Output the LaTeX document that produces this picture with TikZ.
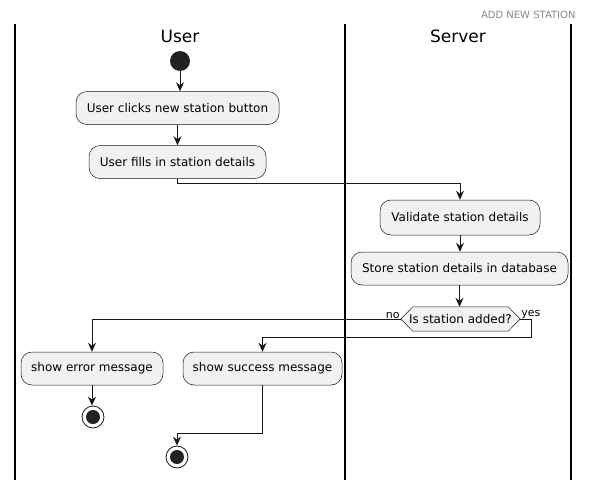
\documentclass[tikz,border=0pt]{standalone}
\usepackage{fontspec}
\setmainfont{DejaVu Sans}
\usetikzlibrary{arrows.meta,shapes.misc}
\definecolor{boxfill}{HTML}{F1F1F1}
\definecolor{boxline}{HTML}{181818}
\definecolor{dot}{HTML}{222222}
\definecolor{hdr}{HTML}{888888}
\tikzset{
  act/.style={draw=boxline, line width=0.5pt, fill=boxfill, rounded corners=11pt,
    minimum height=33pt, inner xsep=0pt, font=\fontsize{12}{14}\selectfont, anchor=center},
  arr/.style={draw=boxline, line width=1pt, -{Stealth[length=9pt,width=8pt,inset=3pt]}},
  lane/.style={line width=1.5pt, black},
  lanetitle/.style={font=\fontsize{17}{20}\selectfont},
}
\begin{document}
\begin{tikzpicture}[x=1pt,y=-1pt]
\useasboundingbox (0,0) rectangle (590,480);
\fill[white] (0,0) rectangle (590,480);
% header
\node[font=\fontsize{10}{12}\selectfont, text=hdr, anchor=east] (hdr) at (579,15) {ADD NEW STATION};
% lanes
\draw[lane] (15,24) -- (15,480);
\draw[lane] (345,24) -- (345,480);
\draw[lane] (571,24) -- (571,480);
\node[lanetitle] (tuser) at (180,36) {User};
\node[lanetitle] (tserver) at (458,36) {Server};
% start
\node[circle, fill=dot, minimum size=20pt, inner sep=0pt] (start) at (180,61) {};
\node[act, minimum width=203pt] (n1) at (177.5,108) {User clicks new station button};
\node[act, minimum width=177pt] (n2) at (177.5,162) {User fills in station details};
\node[act, minimum width=160pt, minimum height=35pt] (n3) at (460,217.5) {Validate station details};
\node[act, minimum width=217pt] (n4) at (459.5,268.5) {Store station details in database};
% decision
\node[font=\fontsize{12}{14}\selectfont, minimum width=119pt, minimum height=24pt, inner sep=0pt] (dia) at (460.5,319) {Is station added?};
\draw[draw=boxline, line width=0.5pt, fill=boxfill]
  (dia.west) -- ([xshift=12pt]dia.north west) -- ([xshift=-12pt]dia.north east) -- (dia.east)
  -- ([xshift=-12pt]dia.south east) -- ([xshift=12pt]dia.south west) -- cycle;
\node[font=\fontsize{12}{14}\selectfont] at (dia) {Is station added?};
\node[font=\fontsize{11}{13}\selectfont, anchor=south east, inner sep=1pt] (lno) at ([yshift=-1pt]dia.west) {no};
\node[font=\fontsize{11}{13}\selectfont, anchor=south west, inner sep=1pt] (lyes) at ([yshift=-1pt]dia.east) {yes};
\node[act, minimum width=142pt] (err) at (92,368.5) {show error message};
\node[act, minimum width=159pt] (succ) at (262.5,368.5) {show success message};
% stops
\node[circle, draw=boxline, line width=0.8pt, fill=white, minimum size=22pt, inner sep=0pt] (stop1) at (93,417) {};
\fill[dot] (stop1) circle (7pt);
\node[circle, draw=boxline, line width=0.8pt, fill=white, minimum size=22pt, inner sep=0pt] (stop2) at (177,457) {};
\fill[dot] (stop2) circle (7pt);
% connectors
\draw[arr] (start) -- (start |- n1.north);
\draw[arr] (n1) -- (n1 |- n2.north);
\draw[arr] (n2.south) -- ++(0,5) -| (n3.north);
\draw[arr] (n3) -- (n3 |- n4.north);
\draw[arr] (n4) -- (n4 |- dia.north);
\draw[arr] (dia.west) -| (err.north);
\draw[arr] (dia.east) -- ++(11,0) -- ++(0,18) -| (succ.north);
\draw[arr] (err.south) -- (err.south |- stop1.north);
\draw[arr] (succ.south) -- ++(0,48) -| (stop2.north);
\end{tikzpicture}
\end{document}
